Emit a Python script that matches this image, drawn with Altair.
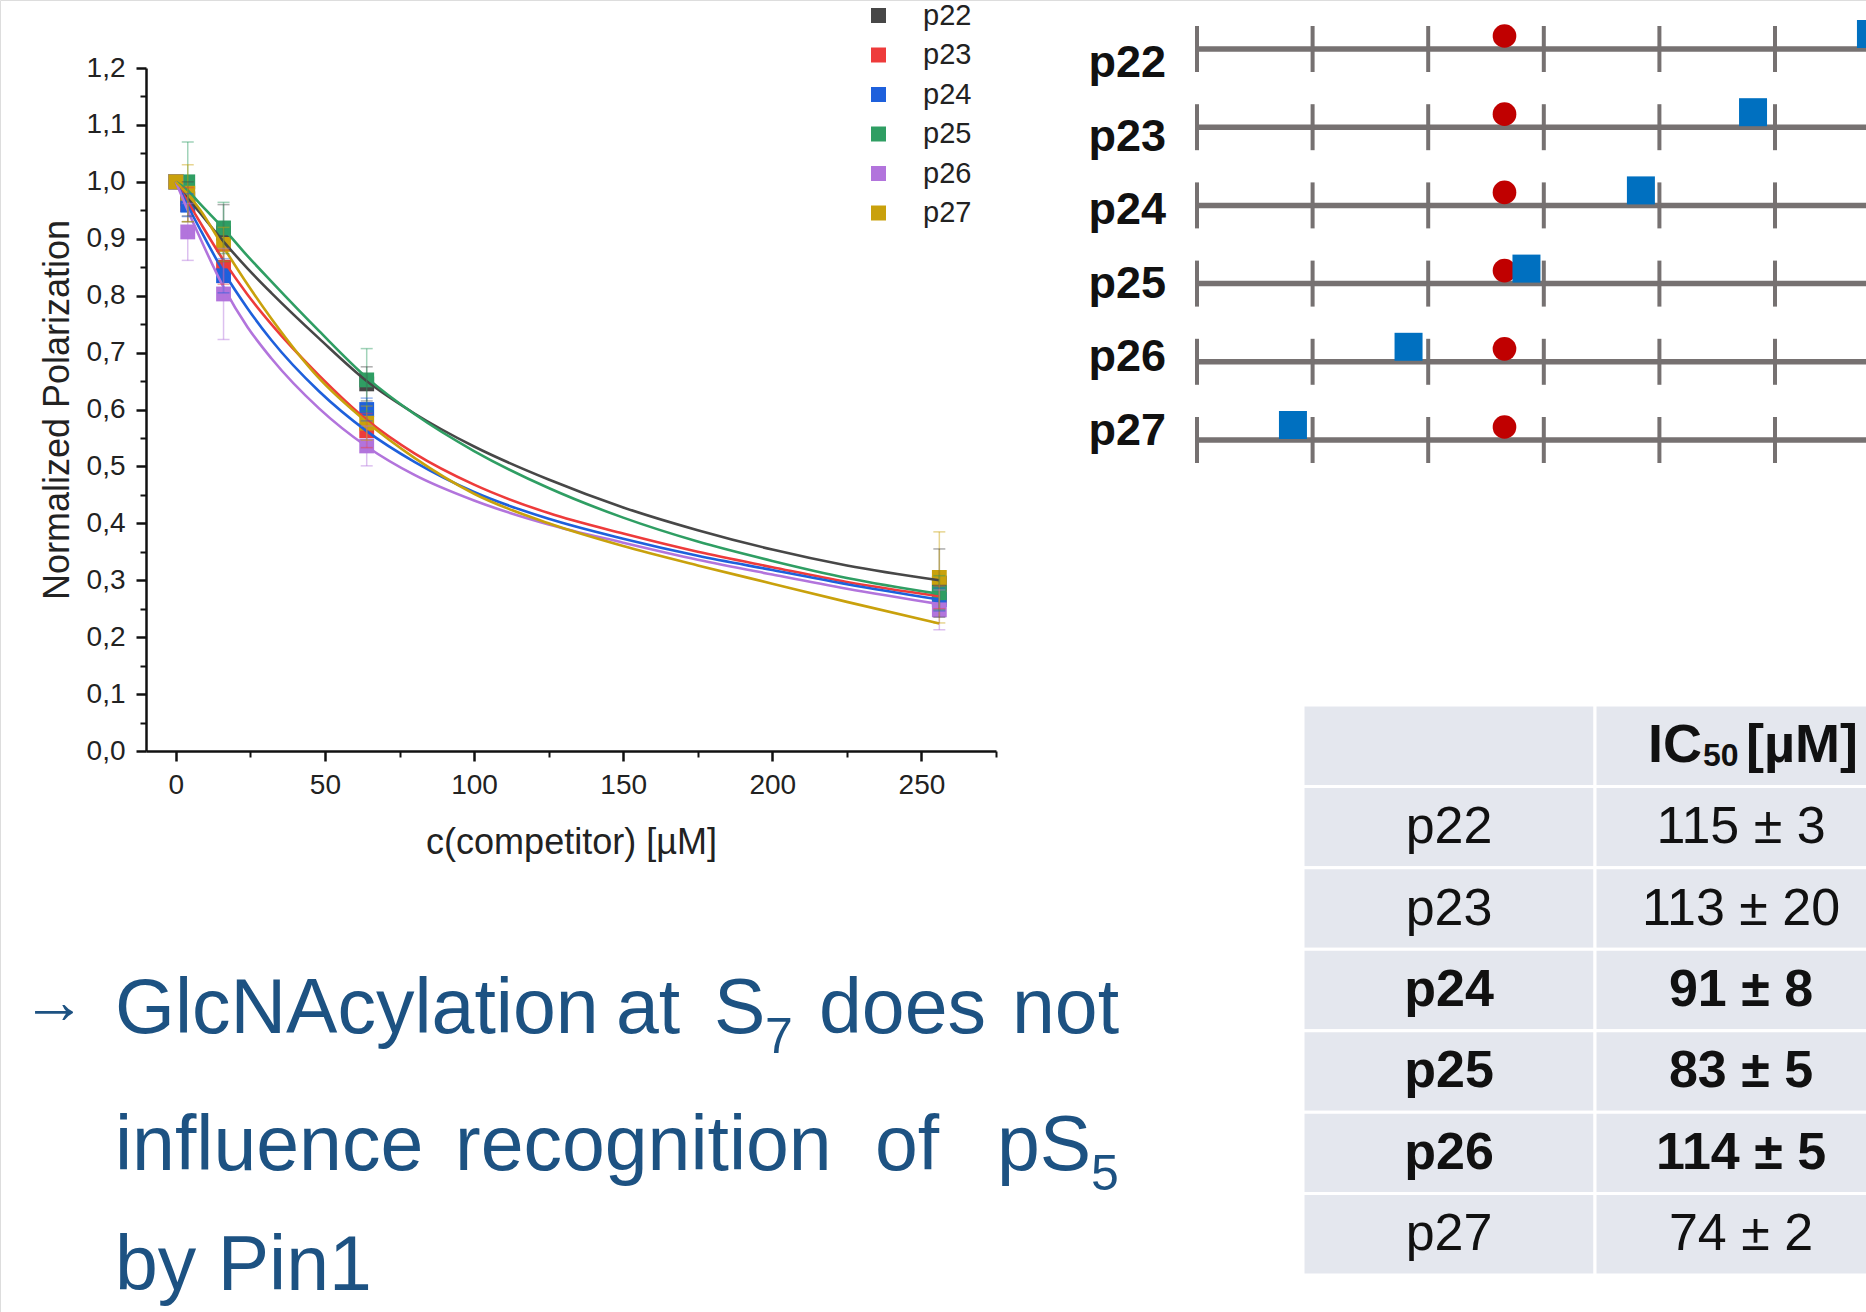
import altair as alt
import pandas as pd

# ---------------- data ----------------
series = ["p22", "p23", "p24", "p25", "p26", "p27"]
series_colors = ["#474747", "#ee3b3b", "#1e60dc", "#2f9e63", "#b274dc", "#c9a10c"]

conc = [0, 4, 16, 64, 256]
polarization = {
    "p22": [1.00, 0.970, 0.910, 0.645, 0.295],
    "p23": [1.00, 0.960, 0.850, 0.563, 0.270],
    "p24": [1.00, 0.959, 0.835, 0.600, 0.266],
    "p25": [1.00, 1.000, 0.919, 0.652, 0.278],
    "p26": [1.00, 0.912, 0.803, 0.536, 0.248],
    "p27": [1.00, 0.980, 0.890, 0.576, 0.305],
}
pol_err = {
    "p22": [0, 0.03, 0.050, 0.030, 0.060],
    "p23": [0, 0.03, 0.030, 0.030, 0.020],
    "p24": [0, 0.02, 0.030, 0.020, 0.020],
    "p25": [0, 0.07, 0.045, 0.055, 0.030],
    "p26": [0, 0.05, 0.080, 0.035, 0.035],
    "p27": [0, 0.05, 0.030, 0.030, 0.080],
}
fit_conc = [0, 4, 8, 16, 24, 32, 48, 64, 80, 100, 125, 150, 175, 200, 225, 256]
fit_pol = {
    "p22": [1.00, 0.973, 0.946, 0.895, 0.848, 0.805, 0.725, 0.650, 0.593, 0.535, 0.477, 0.428, 0.388, 0.354, 0.326, 0.300],
    "p23": [1.00, 0.965, 0.930, 0.862, 0.802, 0.750, 0.660, 0.582, 0.523, 0.468, 0.418, 0.382, 0.350, 0.323, 0.297, 0.272],
    "p24": [1.00, 0.958, 0.918, 0.842, 0.778, 0.722, 0.632, 0.562, 0.508, 0.455, 0.408, 0.373, 0.343, 0.318, 0.293, 0.266],
    "p25": [1.00, 0.985, 0.962, 0.918, 0.870, 0.825, 0.738, 0.656, 0.592, 0.527, 0.462, 0.410, 0.368, 0.334, 0.304, 0.276],
    "p26": [1.00, 0.950, 0.903, 0.815, 0.745, 0.690, 0.602, 0.535, 0.485, 0.440, 0.398, 0.366, 0.336, 0.310, 0.285, 0.258],
    "p27": [1.00, 0.978, 0.952, 0.885, 0.820, 0.760, 0.655, 0.578, 0.515, 0.452, 0.400, 0.360, 0.326, 0.294, 0.262, 0.224],
}
x_major = [0, 50, 100, 150, 200, 250]
x_minor = [25, 75, 125, 175, 225, 275]
y_major = [0.0, 0.1, 0.2, 0.3, 0.4, 0.5, 0.6, 0.7, 0.8, 0.9, 1.0, 1.1, 1.2]
y_minor = [0.05, 0.15, 0.25, 0.35, 0.45, 0.55, 0.65, 0.75, 0.85, 0.95, 1.05, 1.15]

# number-line schematic
nl_ticks = [0, 1, 2, 3, 4, 5, 6]
nl_glcnac = [5.83, 4.81, 3.84, 2.85, 1.83, 0.83]
nl_phospho = [2.66, 2.66, 2.66, 2.66, 2.66, 2.66]

# table
ic50_text = ["115 ± 3", "113 ± 20", "91 ± 8", "83 ± 5", "114 ± 5", "74 ± 2"]
ic50_bold = [False, False, True, True, True, False]

# ---------------- frames ----------------
pts = pd.DataFrame([
    {"series": s, "conc": c, "pol": v, "err": e}
    for s in series for c, v, e in zip(conc, polarization[s], pol_err[s])
])
pts["lo"] = pts["pol"] - pts["err"]
pts["hi"] = pts["pol"] + pts["err"]
errs = pts[pts["err"] > 0].reset_index(drop=True)

fits = pd.DataFrame([
    {"series": s, "conc": c, "pol": v}
    for s in series for c, v in zip(fit_conc, fit_pol[s])
])

FONT = "Liberation Sans"
W, H = 1866, 1312

xs = alt.Scale(domain=[-10, 275], range=[146, 996], nice=False, zero=False)
ys = alt.Scale(domain=[0, 1.2], range=[751, 68], nice=False, zero=False)
cscale = alt.Scale(domain=series, range=series_colors)

x_axis = alt.Axis(orient="bottom", offset=-(H - 751), values=x_major, format="d",
                  tickSize=10, tickWidth=2.5, tickColor="#111", domainColor="#111",
                  domainWidth=2.5, labelFont=FONT, labelFontSize=28, labelColor="#222",
                  labelPadding=10, title="c(competitor) [µM]", titleFont=FONT,
                  titleFontSize=36, titleFontWeight="normal", titleColor="#222",
                  titlePadding=26, grid=False, labelFlush=False)
y_axis = alt.Axis(orient="left", offset=-146, values=y_major,
                  labelExpr="replace(format(datum.value, '.1f'), '.', ',')",
                  tickSize=10, tickWidth=2.5, tickColor="#111", domainColor="#111",
                  domainWidth=2.5, labelFont=FONT, labelFontSize=28, labelColor="#222",
                  labelPadding=11, title="Normalized Polarization", titleFont=FONT,
                  titleFontSize=36, titleFontWeight="normal", titleColor="#222",
                  titlePadding=10, grid=False, labelFlush=False)
legend = alt.Legend(
    orient="none", legendX=864, legendY=1, title=None, symbolType="square",
    symbolSize=225, symbolStrokeWidth=0, symbolOpacity=1, labelFont=FONT,
    labelFontSize=29, labelColor="#222", rowPadding=9.5, labelOffset=30, padding=0)
color = alt.Color("series:N", scale=cscale, legend=legend)

points = alt.Chart(pts).mark_square(size=220, opacity=1).encode(
    x=alt.X("conc:Q", scale=xs, axis=x_axis),
    y=alt.Y("pol:Q", scale=ys, axis=y_axis),
    color=color,
)
curves = alt.Chart(fits).mark_line(strokeWidth=2.6, interpolate="monotone").encode(
    x=alt.X("conc:Q", scale=xs, axis=x_axis),
    y=alt.Y("pol:Q", scale=ys, axis=y_axis),
    color=color,
)
bars = alt.Chart(errs).mark_rule(strokeWidth=1.5, opacity=0.45).encode(
    x=alt.X("conc:Q", scale=xs, axis=x_axis),
    y=alt.Y("lo:Q", scale=ys, axis=y_axis),
    y2="hi:Q",
    color=color,
)
caps_lo = alt.Chart(errs).mark_tick(orient="horizontal", size=12, thickness=1.5, opacity=0.45).encode(
    x=alt.X("conc:Q", scale=xs, axis=x_axis),
    y=alt.Y("lo:Q", scale=ys, axis=y_axis),
    color=color,
)
caps_hi = alt.Chart(errs).mark_tick(orient="horizontal", size=12, thickness=1.5, opacity=0.45).encode(
    x=alt.X("conc:Q", scale=xs, axis=x_axis),
    y=alt.Y("hi:Q", scale=ys, axis=y_axis),
    color=color,
)
main = alt.layer(points, curves, bars, caps_lo, caps_hi)

minor = alt.Chart(pts).mark_point(opacity=0).encode(
    x=alt.X("conc:Q", scale=xs, axis=alt.Axis(orient="bottom", offset=-(H - 751), values=x_minor,
            labels=False, domain=False, tickSize=6, tickWidth=2, tickColor="#111", title=None, grid=False)),
    y=alt.Y("pol:Q", scale=ys, axis=alt.Axis(orient="left", offset=-146, values=y_minor,
            labels=False, domain=False, tickSize=6, tickWidth=2, tickColor="#111", title=None, grid=False)),
)

# ---------------- number line ----------------
nl = pd.DataFrame({"row": list(range(len(series))), "label": series,
                   "glc": nl_glcnac, "pho": nl_phospho})
nl["start"] = min(nl_ticks)
nl["end"] = max(nl_ticks)
nl_t = pd.DataFrame([{"row": r, "pos": t} for r in range(len(series)) for t in nl_ticks])

nx = alt.Scale(domain=[0, 6], range=[1197, 1197 + 6 * 115.6], nice=False, zero=False)
ny = alt.Scale(domain=[0, 5], range=[49, 440], nice=False, zero=False)
GRAY = "#767171"

nl_line = alt.Chart(nl).mark_rule(strokeWidth=5.5, color=GRAY).encode(
    x=alt.X("start:Q", scale=nx, axis=None), x2="end:Q",
    y=alt.Y("row:Q", scale=ny, axis=None))
nl_tick = alt.Chart(nl_t).mark_rule(strokeWidth=4, color=GRAY, yOffset=-23, y2Offset=23).encode(
    x=alt.X("pos:Q", scale=nx, axis=None),
    y=alt.Y("row:Q", scale=ny, axis=None), y2="row:Q")
nl_dot = alt.Chart(nl).mark_point(shape="circle", filled=True, size=560, color="#C00000",
                                  opacity=1, yOffset=-13).encode(
    x=alt.X("pho:Q", scale=nx, axis=None),
    y=alt.Y("row:Q", scale=ny, axis=None))
nl_sq = alt.Chart(nl).mark_point(shape="square", filled=True, size=784, color="#0070C0",
                                 opacity=1, yOffset=-15).encode(
    x=alt.X("glc:Q", scale=nx, axis=None),
    y=alt.Y("row:Q", scale=ny, axis=None))
numberline = alt.layer(nl_line, nl_tick, nl_dot, nl_sq)

nl_lab = alt.Chart(nl).mark_text(align="right", baseline="middle", font=FONT, fontSize=45,
                                  fontWeight="bold", color="#111").encode(
    x=alt.value(1166),
    y=alt.Y("row:Q", scale=alt.Scale(domain=[0, 5], range=[63, 431], nice=False, zero=False), axis=None),
    text="label:N")

# ---------------- table ----------------
cells = pd.DataFrame([{"r": r, "c": c} for r in range(len(series) + 1) for c in range(2)])
tab = pd.DataFrame({"r": list(range(1, len(series) + 1)), "name": series,
                    "val": ic50_text, "bold": ic50_bold})
tx = alt.Scale(domain=[0, 2], range=[1303, 1303 + 2 * 292], nice=False, zero=False)
ty = alt.Scale(domain=[0, 7], range=[705, 1275], nice=False, zero=False)

tab_rect = alt.Chart(cells).mark_rect(color="#E4E7EE", stroke="white", strokeWidth=3).transform_calculate(
    c2="datum.c + 1", r2="datum.r + 1").encode(
    x=alt.X("c:Q", scale=tx, axis=None), x2="c2:Q",
    y=alt.Y("r:Q", scale=ty, axis=None), y2="r2:Q")


def tab_text(field, col, bold):
    base = alt.Chart(tab).transform_filter(
        "datum.bold" if bold else "!datum.bold").transform_calculate(
        cx=f"{col} + 0.5", cy="datum.r + 0.5")
    return base.mark_text(font=FONT, fontSize=52, fontWeight="bold" if bold else "normal",
                          color="#111", baseline="middle", align="center").encode(
        x=alt.X("cx:Q", scale=tx, axis=None),
        y=alt.Y("cy:Q", scale=ty, axis=None),
        text=f"{field}:N")


head = pd.DataFrame({"part": ["IC", "50", "[µM]"]})


def head_text(part, size, align, dx, dy):
    return alt.Chart(head).transform_filter(f"datum.part == '{part}'").transform_calculate(
        cx="1.5", cy="0.5").mark_text(font=FONT, fontSize=size, fontWeight="bold", color="#111",
                                        baseline="middle", align=align, dx=dx, dy=dy).encode(
        x=alt.X("cx:Q", scale=tx, axis=None),
        y=alt.Y("cy:Q", scale=ty, axis=None),
        text="part:N")


table = alt.layer(
    tab_rect,
    tab_text("name", 0, False), tab_text("name", 0, True),
    tab_text("val", 1, False), tab_text("val", 1, True),
    head_text("IC", 54, "right", -39, 0), head_text("50", 32, "left", -38, 10),
    head_text("[µM]", 54, "left", 5, 0),
)

# ---------------- paragraph ----------------
BLUE = "#1d5282"


def word(txt, x, y, size=77, baseline="alphabetic"):
    return alt.Chart(pd.DataFrame({"t": [txt]})).mark_text(
        font=FONT, fontSize=size, color=BLUE, align="left", baseline=baseline).encode(
        x=alt.value(x), y=alt.value(y), text="t:N")


paragraph = [
    word("→", 22, 1004, size=64, baseline="middle"),
    word("GlcNAcylation", 115, 1033), word("at", 616, 1033), word("S", 714, 1033),
    word("7", 765, 1053, size=50), word("does", 819, 1033), word("not", 1012, 1033),
    word("influence", 115, 1170), word("recognition", 455, 1170), word("of", 875, 1170),
    word("pS", 997, 1170), word("5", 1091, 1190, size=50),
    word("by Pin1", 115, 1290),
]

chart = alt.layer(main, minor, numberline, nl_lab, table, *paragraph).resolve_scale(
    x="independent", y="independent"
).properties(
    width=W, height=H, autosize=alt.AutoSizeParams(type="none"), padding=0
).configure_view(stroke=None).configure(background="white")

chart.save("out.html", embed_options={"renderer": "svg", "actions": False})
